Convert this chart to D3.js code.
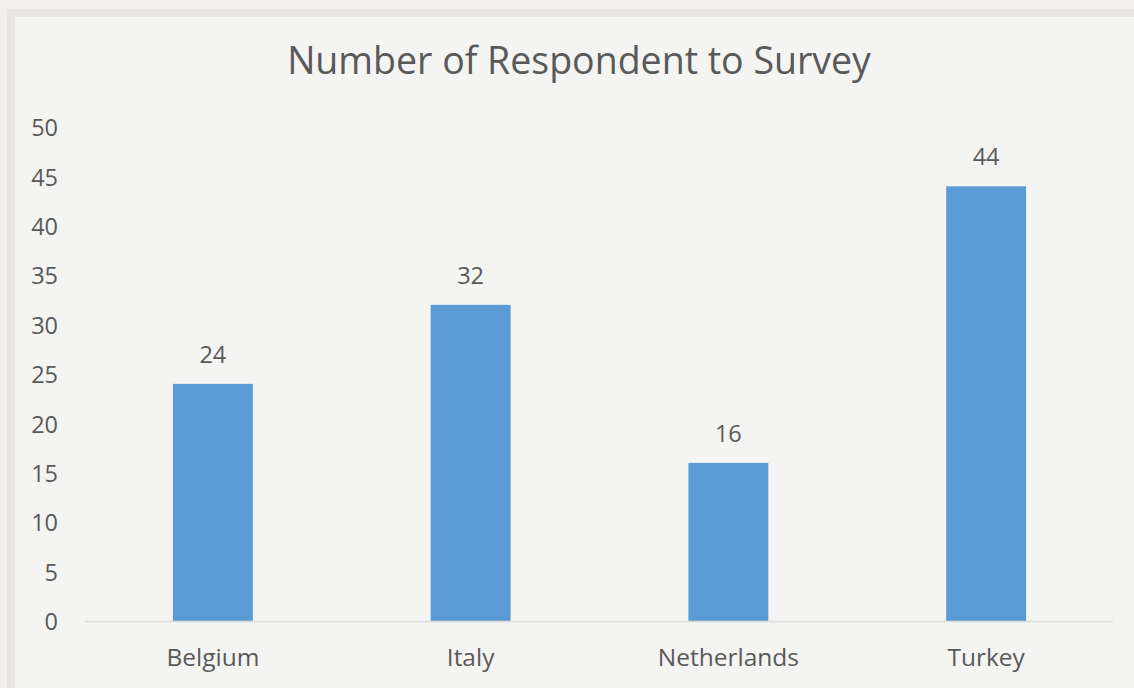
<!DOCTYPE html>
<html><head><meta charset="utf-8">
<script src="https://cdn.jsdelivr.net/npm/d3@7"></script>
<style>html,body{margin:0;padding:0;background:#efeeed;overflow:hidden}</style>
</head><body>
<svg id="c" width="1134" height="688"></svg>
<script>
const categories = ["Belgium", "Italy", "Netherlands", "Turkey"];
const values = [24, 32, 16, 44];
const yTicks = [0, 5, 10, 15, 20, 25, 30, 35, 40, 45, 50];
const title = "Number of Respondent to Survey";

const svg = d3.select("#c");
const font = "'Open Sans', 'Liberation Sans', sans-serif";
const textCol = "#595959";

// paper background + frame
svg.append("rect").attr("x",0).attr("y",0).attr("width",1134).attr("height",688).attr("fill","#f1f0ef");
svg.append("rect").attr("x",11).attr("y",13).attr("width",1140).attr("height",700).attr("fill","#f4f4f3")
  .attr("stroke","#e9e5e4").attr("stroke-width",8);

const x = d3.scaleBand().domain(categories).range([84, 1115]).paddingInner(0.69).paddingOuter(0.345);
const y = d3.scaleLinear().domain([0, 50]).range([621, 127]);

// title
svg.append("text").attr("x", 579).attr("y", 74).attr("text-anchor","middle")
  .attr("font-family", font).attr("font-size", 37.5).attr("fill", textCol).text(title);

// y axis labels
const ya = svg.append("g").attr("transform","translate(58,0)")
  .call(d3.axisLeft(y).tickValues(yTicks).tickSize(0).tickPadding(0));
ya.select(".domain").remove();
ya.selectAll("text").attr("font-family", font).attr("font-size", 23.5).attr("fill", textCol).attr("dy","0.37em");

// bars
svg.append("g").selectAll("rect").data(categories).join("rect")
  .attr("x", d => x(d)).attr("width", x.bandwidth())
  .attr("y", (d,i) => y(values[i])).attr("height", (d,i) => y(0) - y(values[i]))
  .attr("fill", "#5b9bd5");

// baseline
svg.append("line").attr("x1", 85).attr("x2", 1113).attr("y1", y(0)+0.5).attr("y2", y(0)+0.5)
  .attr("stroke", "#dcdcdc").attr("stroke-width", 1.5);

// x axis labels
const xa = svg.append("g").attr("transform", `translate(0,${y(0)})`)
  .call(d3.axisBottom(x).tickSize(0).tickPadding(28));
xa.select(".domain").remove();
xa.selectAll("text").attr("font-family", font).attr("font-size", 24.5).attr("fill", textCol);

// value labels
svg.append("g").selectAll("text").data(categories).join("text")
  .attr("x", d => x(d) + x.bandwidth()/2).attr("y", (d,i) => y(values[i]) - 21)
  .attr("text-anchor","middle").attr("font-family", font).attr("font-size", 23.5).attr("fill", textCol)
  .text((d,i) => values[i]);
</script>
</body></html>
